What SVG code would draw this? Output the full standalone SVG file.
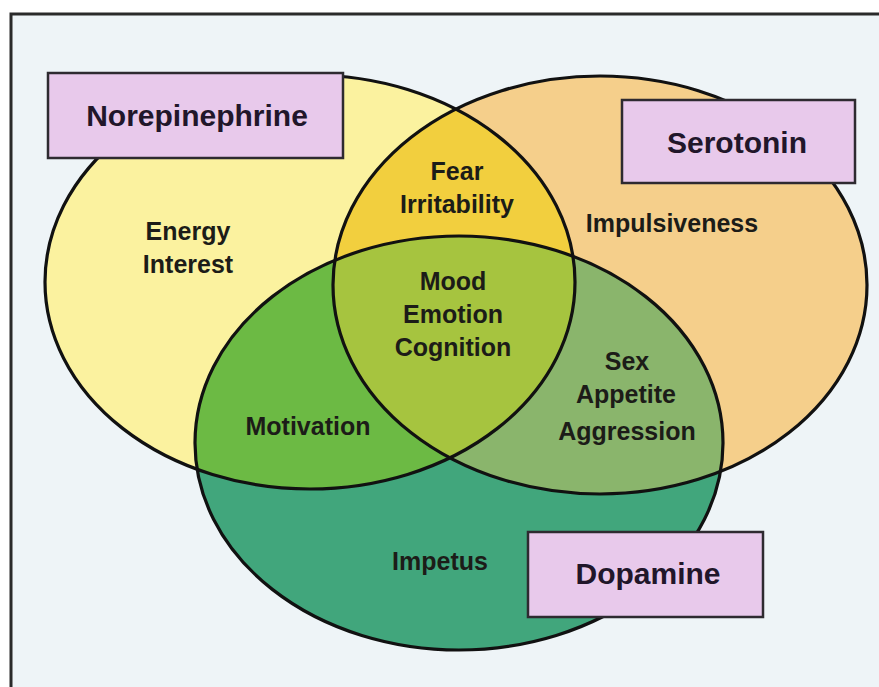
<svg xmlns="http://www.w3.org/2000/svg" width="879" height="687" viewBox="0 0 879 687">
<style>
.lbl{font-family:"Liberation Sans",Arial,sans-serif;font-weight:bold;font-size:25px;fill:#1c1c18;text-anchor:middle}
.ttl{font-family:"Liberation Sans",Arial,sans-serif;font-weight:bold;font-size:30px;fill:#21162a;text-anchor:middle}
.box{fill:#e8c9eb;stroke:#2e2a30;stroke-width:2.5}
.ring{fill:none;stroke:#111;stroke-width:3.2}
</style>
<defs>
<clipPath id="cY"><ellipse cx="310" cy="282" rx="265" ry="207"/></clipPath>
<clipPath id="cO"><ellipse cx="600" cy="285" rx="267" ry="209"/></clipPath>
<clipPath id="cG"><ellipse cx="459" cy="443" rx="264" ry="207"/></clipPath>
</defs>
<rect x="0" y="0" width="879" height="687" fill="#ffffff"/>
<rect x="11" y="14" width="868" height="673" fill="#eef4f7"/>
<path d="M11 687 V14 H879" fill="none" stroke="#2a2a2a" stroke-width="3"/>

<g id="fills">
<ellipse cx="310" cy="282" rx="265" ry="207" fill="#fbf29f"/>
<ellipse cx="600" cy="285" rx="267" ry="209" fill="#f5cf8b"/>
<ellipse cx="459" cy="443" rx="264" ry="207" fill="#41a67c"/>
<g clip-path="url(#cY)"><ellipse cx="600" cy="285" rx="267" ry="209" fill="#f2cf3e"/></g>
<g clip-path="url(#cY)"><ellipse cx="459" cy="443" rx="264" ry="207" fill="#6cba44"/></g>
<g clip-path="url(#cO)"><ellipse cx="459" cy="443" rx="264" ry="207" fill="#8ab56c"/></g>
<g clip-path="url(#cY)"><g clip-path="url(#cO)"><ellipse cx="459" cy="443" rx="264" ry="207" fill="#a6c43f"/></g></g>
</g>

<g id="norepinephrine">
<ellipse class="ring" cx="310" cy="282" rx="265" ry="207"/>
</g>
<g id="serotonin">
<ellipse class="ring" cx="600" cy="285" rx="267" ry="209"/>
</g>
<g id="dopamine">
<ellipse class="ring" cx="459" cy="443" rx="264" ry="207"/>
</g>

<g id="region-labels">
<text class="lbl" x="188" y="240">Energy</text>
<text class="lbl" x="188" y="273">Interest</text>
<text class="lbl" x="457" y="180">Fear</text>
<text class="lbl" x="457" y="213">Irritability</text>
<text class="lbl" x="672" y="232">Impulsiveness</text>
<text class="lbl" x="453" y="290">Mood</text>
<text class="lbl" x="453" y="323">Emotion</text>
<text class="lbl" x="453" y="356">Cognition</text>
<text class="lbl" x="627" y="370">Sex</text>
<text class="lbl" x="626" y="403">Appetite</text>
<text class="lbl" x="627" y="440">Aggression</text>
<text class="lbl" x="308" y="435">Motivation</text>
<text class="lbl" x="440" y="570">Impetus</text>
</g>

<g id="label-norepinephrine">
<rect class="box" x="48" y="73" width="295" height="85"/>
<text class="ttl" x="197" y="126">Norepinephrine</text>
</g>
<g id="label-serotonin">
<rect class="box" x="622" y="100" width="233" height="83"/>
<text class="ttl" x="737" y="153">Serotonin</text>
</g>
<g id="label-dopamine">
<rect class="box" x="528" y="532" width="235" height="85"/>
<text class="ttl" x="648" y="584">Dopamine</text>
</g>
<g id="connectors"></g>
</svg>
